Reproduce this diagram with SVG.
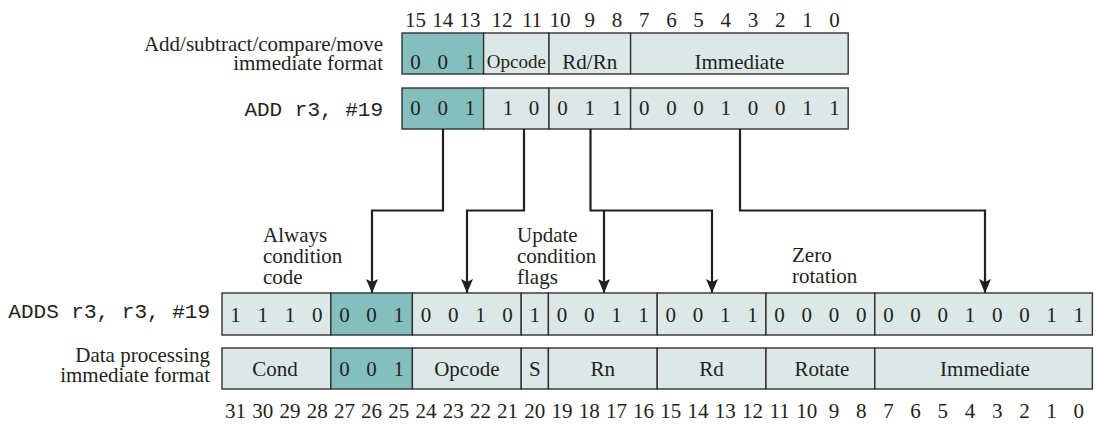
<svg xmlns="http://www.w3.org/2000/svg" width="1097" height="424" viewBox="0 0 1097 424">
<defs>
<style>
text{font-family:"Liberation Serif","Times New Roman",serif;font-size:21px;fill:#231f20}
.m{font-family:"Liberation Mono","Courier New",monospace;font-size:21px}
.c{text-anchor:middle}
.r{text-anchor:end}
.lt{fill:#dbe8e7;stroke:#333;stroke-width:1.4}
.tl{fill:#84bfbe;stroke:#333;stroke-width:1.4}
.cn{fill:none;stroke:#231f20;stroke-width:2.2}
</style>
<marker id="ah" markerUnits="userSpaceOnUse" markerWidth="12" markerHeight="16" viewBox="0 0 12 16" refX="6" refY="16" orient="auto-start-reverse">
<path d="M0,0 L6,3 L12,0 L6,16 Z" fill="#231f20" transform="rotate(0)"/>
</marker>
<marker id="ad" markerUnits="userSpaceOnUse" markerWidth="12" markerHeight="16" viewBox="0 0 12 16" refX="6" refY="16" orient="0">
<path d="M0,2 L6,5 L12,2 L6,16 Z" fill="#231f20"/>
</marker>
</defs>
<rect width="1097" height="424" fill="#fff"/>

<g id="top-bit-numbers" class="c">
<text x="415.6" y="27" class="c">15</text><text x="442.8" y="27" class="c">14</text><text x="470" y="27" class="c">13</text>
<text x="502" y="27" class="c">12</text><text x="532" y="27" class="c">11</text>
<text x="560" y="27" class="c">10</text><text x="589.8" y="27" class="c">9</text><text x="617" y="27" class="c">8</text>
<text x="644.2" y="27" class="c">7</text><text x="671.4" y="27" class="c">6</text><text x="698.6" y="27" class="c">5</text><text x="725.8" y="27" class="c">4</text>
<text x="753" y="27" class="c">3</text><text x="780.2" y="27" class="c">2</text><text x="807.4" y="27" class="c">1</text><text x="834.6" y="27" class="c">0</text>
</g>

<g id="label-thumb-format">
<text x="383" y="51" class="r">Add/subtract/compare/move</text>
<text x="383" y="70" class="r">immediate format</text>
</g>
<g id="label-add">
<text x="383" y="116" class="m r">ADD r3, #19</text>
</g>

<g id="thumb-format">
<rect class="tl" x="402" y="33" width="81.6" height="41"/>
<rect class="lt" x="483.6" y="33" width="65.4" height="41"/>
<rect class="lt" x="549" y="33" width="81.6" height="41"/>
<rect class="lt" x="630.6" y="33" width="217.6" height="41"/>
<text x="415.6" y="68.5" class="c">0</text><text x="442.8" y="68.5" class="c">0</text><text x="470" y="68.5" class="c">1</text>
<text x="516.3" y="68" class="c" style="font-size:19px">Opcode</text>
<text x="589.8" y="68.5" class="c">Rd/Rn</text>
<text x="739.4" y="68.5" class="c">Immediate</text>
</g>

<g id="thumb-add">
<rect class="tl" x="402" y="88" width="81.6" height="41"/>
<rect class="lt" x="483.6" y="88" width="65.4" height="41"/>
<rect class="lt" x="549" y="88" width="81.6" height="41"/>
<rect class="lt" x="630.6" y="88" width="217.6" height="41"/>
<text x="415.6" y="115" class="c">0</text><text x="442.8" y="115" class="c">0</text><text x="470" y="115" class="c">1</text>
<text x="508" y="115" class="c">1</text><text x="534" y="115" class="c">0</text>
<text x="562.6" y="115" class="c">0</text><text x="589.8" y="115" class="c">1</text><text x="617" y="115" class="c">1</text>
<text x="644.2" y="115" class="c">0</text><text x="671.4" y="115" class="c">0</text><text x="698.6" y="115" class="c">0</text><text x="725.8" y="115" class="c">1</text>
<text x="753" y="115" class="c">0</text><text x="780.2" y="115" class="c">0</text><text x="807.4" y="115" class="c">1</text><text x="834.6" y="115" class="c">1</text>
</g>

<g id="connectors">
<path class="cn" d="M443,129 V210.5 H372 V293" marker-end="url(#ad)"/>
<path class="cn" d="M524,129 V210.5 H467 V293" marker-end="url(#ad)"/>
<path class="cn" d="M590.5,129 V210.5 H712 V293" marker-end="url(#ad)"/>
<path class="cn" d="M604,210.5 V293" marker-end="url(#ad)"/>
<path class="cn" d="M740,129 V210.5 H985 V293" marker-end="url(#ad)"/>
</g>

<g id="note-always">
<text x="263" y="242">Always</text>
<text x="263" y="263">condition</text>
<text x="263" y="284">code</text>
</g>
<g id="note-update">
<text x="517" y="242">Update</text>
<text x="517" y="263">condition</text>
<text x="517" y="284">flags</text>
</g>
<g id="note-zero">
<text x="792" y="262">Zero</text>
<text x="792" y="283">rotation</text>
</g>

<g id="label-adds">
<text x="210" y="318" class="m r">ADDS r3, r3, #19</text>
</g>
<g id="label-arm-format">
<text x="210" y="362" class="r">Data processing</text>
<text x="210" y="382" class="r">immediate format</text>
</g>

<g id="arm-adds">
<rect class="lt" x="222" y="293" width="108.8" height="42"/>
<rect class="tl" x="330.8" y="293" width="81.6" height="42"/>
<rect class="lt" x="412.4" y="293" width="108.8" height="42"/>
<rect class="lt" x="521.2" y="293" width="27.2" height="42"/>
<rect class="lt" x="548.4" y="293" width="108.8" height="42"/>
<rect class="lt" x="657.2" y="293" width="108.8" height="42"/>
<rect class="lt" x="766" y="293" width="108.8" height="42"/>
<rect class="lt" x="874.8" y="293" width="217.6" height="42"/>
<g class="c">
<text x="235.6" y="322" class="c">1</text><text x="262.8" y="322" class="c">1</text><text x="290" y="322" class="c">1</text><text x="317.2" y="322" class="c">0</text>
<text x="344.4" y="322" class="c">0</text><text x="371.6" y="322" class="c">0</text><text x="398.8" y="322" class="c">1</text>
<text x="426" y="322" class="c">0</text><text x="453.2" y="322" class="c">0</text><text x="480.4" y="322" class="c">1</text><text x="507.6" y="322" class="c">0</text>
<text x="534.8" y="322" class="c">1</text>
<text x="562" y="322" class="c">0</text><text x="589.2" y="322" class="c">0</text><text x="616.4" y="322" class="c">1</text><text x="643.6" y="322" class="c">1</text>
<text x="670.8" y="322" class="c">0</text><text x="698" y="322" class="c">0</text><text x="725.2" y="322" class="c">1</text><text x="752.4" y="322" class="c">1</text>
<text x="779.6" y="322" class="c">0</text><text x="806.8" y="322" class="c">0</text><text x="834" y="322" class="c">0</text><text x="861.2" y="322" class="c">0</text>
<text x="888.4" y="322" class="c">0</text><text x="915.6" y="322" class="c">0</text><text x="942.8" y="322" class="c">0</text><text x="970" y="322" class="c">1</text>
<text x="997.2" y="322" class="c">0</text><text x="1024.4" y="322" class="c">0</text><text x="1051.6" y="322" class="c">1</text><text x="1078.8" y="322" class="c">1</text>
</g>
</g>

<g id="arm-format">
<rect class="lt" x="222" y="348" width="108.8" height="41"/>
<rect class="tl" x="330.8" y="348" width="81.6" height="41"/>
<rect class="lt" x="412.4" y="348" width="108.8" height="41"/>
<rect class="lt" x="521.2" y="348" width="27.2" height="41"/>
<rect class="lt" x="548.4" y="348" width="108.8" height="41"/>
<rect class="lt" x="657.2" y="348" width="108.8" height="41"/>
<rect class="lt" x="766" y="348" width="108.8" height="41"/>
<rect class="lt" x="874.8" y="348" width="217.6" height="41"/>
<text x="275" y="375.5" class="c">Cond</text>
<text x="344.4" y="375.5" class="c">0</text><text x="371.6" y="375.5" class="c">0</text><text x="398.8" y="375.5" class="c">1</text>
<text x="466.8" y="375.5" class="c">Opcode</text>
<text x="534.8" y="375.5" class="c">S</text>
<text x="602.8" y="375.5" class="c">Rn</text>
<text x="711.6" y="375.5" class="c">Rd</text>
<text x="822" y="375.5" class="c">Rotate</text>
<text x="985" y="375.5" class="c">Immediate</text>
</g>

<g id="bottom-bit-numbers">
<text x="235.6" y="418" class="c">31</text><text x="262.8" y="418" class="c">30</text><text x="290" y="418" class="c">29</text><text x="317.2" y="418" class="c">28</text>
<text x="344.4" y="418" class="c">27</text><text x="371.6" y="418" class="c">26</text><text x="398.8" y="418" class="c">25</text><text x="426" y="418" class="c">24</text>
<text x="453.2" y="418" class="c">23</text><text x="480.4" y="418" class="c">22</text><text x="507.6" y="418" class="c">21</text><text x="534.8" y="418" class="c">20</text>
<text x="562" y="418" class="c">19</text><text x="589.2" y="418" class="c">18</text><text x="616.4" y="418" class="c">17</text><text x="643.6" y="418" class="c">16</text>
<text x="670.8" y="418" class="c">15</text><text x="698" y="418" class="c">14</text><text x="725.2" y="418" class="c">13</text><text x="752.4" y="418" class="c">12</text>
<text x="779.6" y="418" class="c">11</text><text x="806.8" y="418" class="c">10</text><text x="834" y="418" class="c">9</text><text x="861.2" y="418" class="c">8</text>
<text x="888.4" y="418" class="c">7</text><text x="915.6" y="418" class="c">6</text><text x="942.8" y="418" class="c">5</text><text x="970" y="418" class="c">4</text>
<text x="997.2" y="418" class="c">3</text><text x="1024.4" y="418" class="c">2</text><text x="1051.6" y="418" class="c">1</text><text x="1078.8" y="418" class="c">0</text>
</g>
</svg>
